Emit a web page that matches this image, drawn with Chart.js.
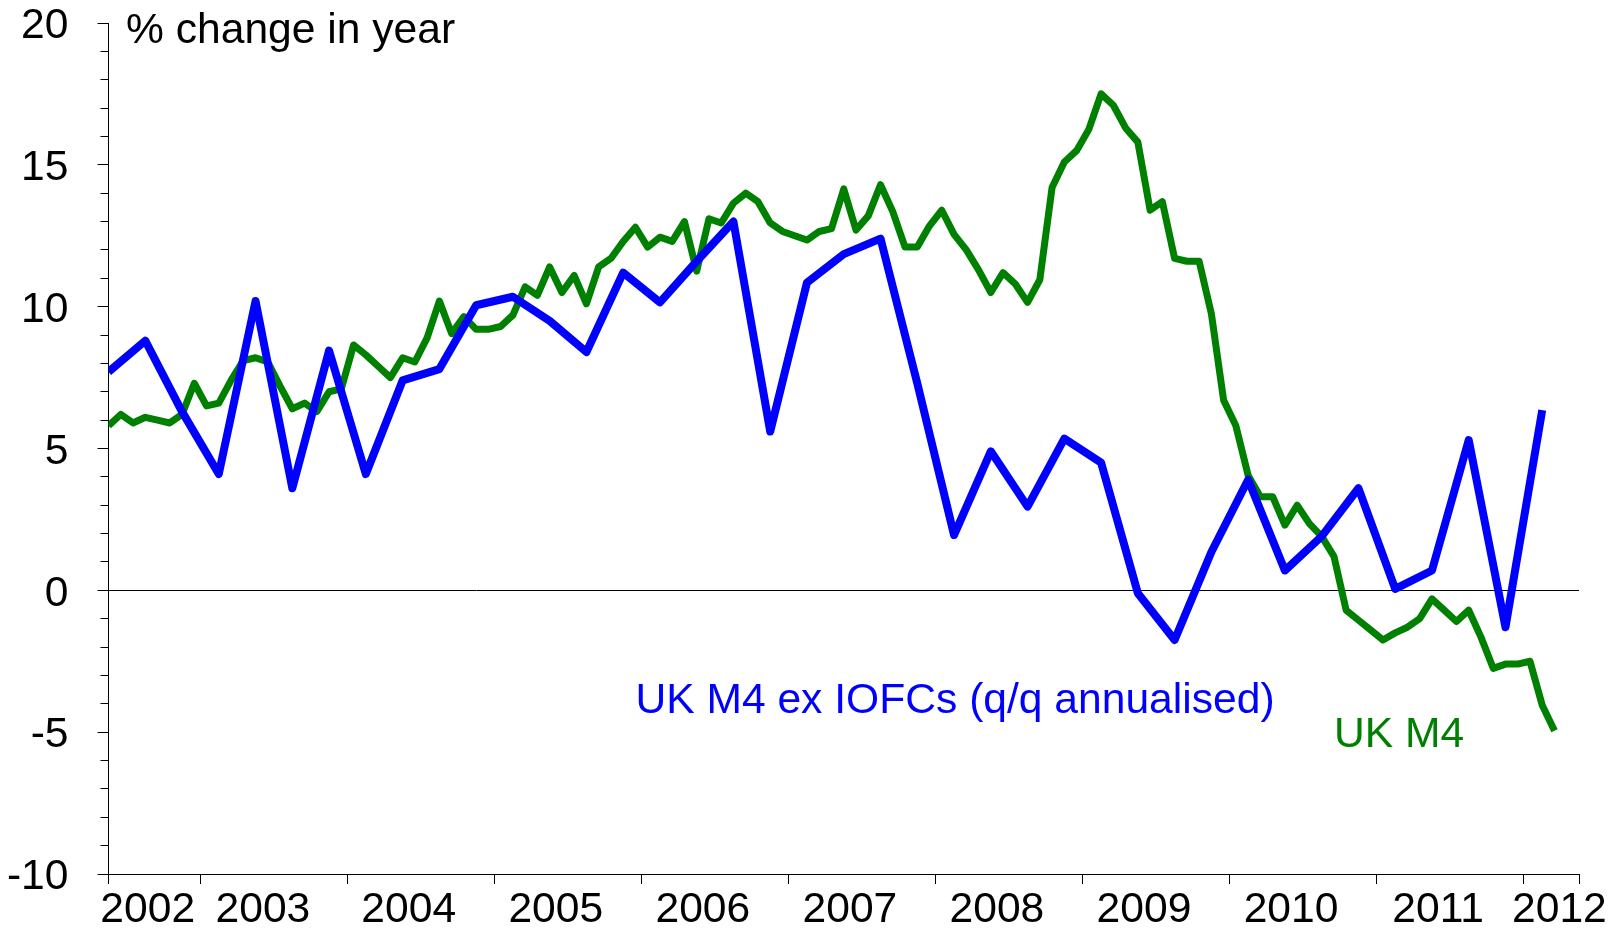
<!DOCTYPE html>
<html>
<head>
<meta charset="utf-8">
<script src="https://cdn.jsdelivr.net/npm/chart.js@4/dist/chart.umd.min.js"></script>
<style>
  html, body { margin: 0; padding: 0; background: #ffffff; }
  #wrap { width: 1618px; height: 933px; position: relative; }
</style>
</head>
<body>
<div id="wrap"><canvas id="c" width="1618" height="933"></canvas></div>
<script>
// ---- data (monthly index from May 2002) ----
const ukM4 = [
  5.8, 6.2, 5.9, 6.1, 6.0, 5.9, 6.2, 7.3, 6.5, 6.6,
  7.4, 8.1, 8.2, 8.05, 7.2, 6.4, 6.6, 6.3, 7.0, 7.1,
  8.65, 8.3, 7.9, 7.5, 8.2, 8.05, 8.9, 10.2, 9.05, 9.65,
  9.2, 9.2, 9.3, 9.7, 10.7, 10.4, 11.4, 10.5, 11.1, 10.1,
  11.4, 11.7, 12.3, 12.8, 12.1, 12.45, 12.3, 13.0, 11.25, 13.1,
  12.95, 13.65, 14.0, 13.7, 12.95, 12.65, 12.5, 12.35, 12.65, 12.75,
  14.15, 12.7, 13.2, 14.3, 13.35, 12.1, 12.1, 12.85, 13.4, 12.55,
  12.0, 11.3, 10.5, 11.2, 10.8, 10.15, 10.95, 14.2, 15.1, 15.5,
  16.25, 17.5, 17.1, 16.3, 15.8, 13.4, 13.7, 11.7, 11.6, 11.6,
  9.75, 6.7, 5.8, 4.05, 3.3, 3.3, 2.3, 3.0, 2.35, 1.9,
  1.2, -0.7, -1.05, -1.4, -1.75, -1.5, -1.3, -1.0, -0.3, -0.7,
  -1.1, -0.7, -1.65, -2.75, -2.6, -2.6, -2.5, -4.05, -4.95
];
// quarterly, every 3rd month index
const ukM4exIOFCs = [
  7.7, 8.8, 6.3, 4.1, 10.2, 3.6, 8.45, 4.1, 7.4, 7.8,
  10.05, 10.35, 9.5, 8.4, 11.2, 10.15, 11.6, 13.0, 5.6, 10.85,
  11.85, 12.4, 7.3, 1.95, 4.9, 2.95, 5.35, 4.5, -0.1, -1.75,
  1.35, 3.9, 0.7, 1.9, 3.6, 0.05, 0.7, 5.3, -1.3, 6.35
];
const yearLabels = ['2002','2003','2004','2005','2006','2007','2008','2009','2010','2011','2012'];
const yearLabelPos = [3.2, 12.6, 24.5, 36.5, 48.5, 60.5, 72.5, 84.5, 96.5, 108.5, 118.4];
const yearTickPos = [0, 7.5, 19.5, 31.5, 43.5, 55.5, 67.5, 79.5, 91.5, 103.5, 115.5, 120];
const yMajorTicks = [-10, -5, 0, 5, 10, 15, 20];
const annotations = [
  { text: '% change in year', x: 1.43, y: 19.31, color: '#000000' },
  { text: 'UK M4 ex IOFCs (q/q annualised)', x: 43.0, y: -4.31, color: '#0000ff' },
  { text: 'UK M4', x: 100.0, y: -5.51, color: '#008000' }
];

const FONT = '"Liberation Sans", Arial, Helvetica, sans-serif';
const FSIZE = 42.6;

const annotPlugin = {
  id: 'annot',
  afterDatasetsDraw(chart) {
    const { ctx } = chart;
    const xs = chart.scales.x, ys = chart.scales.y;
    ctx.save();
    ctx.font = FSIZE + 'px ' + FONT;
    ctx.textAlign = 'left';
    ctx.textBaseline = 'alphabetic';
    annotations.forEach(a => {
      ctx.fillStyle = a.color;
      ctx.fillText(a.text, xs.getPixelForValue(a.x), ys.getPixelForValue(a.y));
    });
    ctx.restore();
  }
};

const ctx = document.getElementById('c').getContext('2d');
new Chart(ctx, {
  type: 'line',
  data: {
    datasets: [
      {
        label: 'UK M4 ex IOFCs (q/q annualised)',
        data: ukM4exIOFCs.map((v, j) => ({ x: 3 * j, y: v })),
        borderColor: '#0000ff',
        borderWidth: 8,
        pointRadius: 0,
        tension: 0,
        borderJoinStyle: 'round',
        borderCapStyle: 'butt',
        fill: false,
        order: 1,
        xAxisID: 'x', yAxisID: 'y'
      },
      {
        label: 'UK M4',
        data: ukM4.map((v, i) => ({ x: i, y: v })),
        borderColor: '#008000',
        borderWidth: 7,
        pointRadius: 0,
        tension: 0,
        borderJoinStyle: 'round',
        borderCapStyle: 'butt',
        fill: false,
        order: 2,
        xAxisID: 'x', yAxisID: 'y'
      }
    ]
  },
  options: {
    responsive: false,
    animation: false,
    devicePixelRatio: 1,
    layout: { autoPadding: false, padding: { left: 0, right: 39, top: 23, bottom: 0 } },
    plugins: { legend: { display: false }, tooltip: { enabled: false } },
    scales: {
      x: {
        type: 'linear', min: 0, max: 120, position: 'bottom', weight: 0,
        afterBuildTicks: s => { s.ticks = yearTickPos.map(v => ({ value: v })); },
        afterFit: s => { s.height = 0; s.paddingLeft = 0; s.paddingRight = 0; },
        ticks: { display: false },
        grid: { drawOnChartArea: false, drawTicks: true, tickLength: 10, tickColor: '#000', tickWidth: 1 },
        border: { display: true, color: '#000', width: 1 }
      },
      xLab: {
        type: 'linear', min: 0, max: 120, position: 'bottom', weight: 1,
        afterBuildTicks: s => { s.ticks = yearLabelPos.map(v => ({ value: v })); },
        afterFit: s => { s.height = 59; s.paddingLeft = 0; s.paddingRight = 0; },
        ticks: {
          autoSkip: false, maxRotation: 0, minRotation: 0, padding: 11,
          font: { family: FONT, size: FSIZE }, color: '#000',
          callback: (v, i) => yearLabels[i]
        },
        grid: { display: false, drawTicks: false },
        border: { display: false }
      },
      y: {
        type: 'linear', min: -10, max: 20, position: 'left', weight: 1,
        afterBuildTicks: s => { s.ticks = yMajorTicks.map(v => ({ value: v })); },
        afterFit: s => { s.width = 108.5; s.paddingTop = 0; s.paddingBottom = 0; },
        ticks: { font: { family: FONT, size: FSIZE }, color: '#000', padding: 29, labelOffset: 3.5 },
        grid: { drawOnChartArea: false, drawTicks: true, tickLength: 11, tickColor: '#000', tickWidth: 1 },
        border: { display: true, color: '#000', width: 1 }
      },
      yMinor: {
        type: 'linear', min: -10, max: 20, position: 'left', weight: 0,
        ticks: { stepSize: 1, display: false },
        afterFit: s => { s.width = 0; s.paddingTop = 0; s.paddingBottom = 0; },
        grid: {
          drawOnChartArea: true, drawTicks: true, tickLength: 8,
          color: c => (c.tick && c.tick.value === 0) ? '#000' : 'rgba(0,0,0,0)',
          lineWidth: 1, tickColor: '#000', tickWidth: 1
        },
        border: { display: false }
      }
    }
  },
  plugins: [annotPlugin]
});
</script>
</body>
</html>
